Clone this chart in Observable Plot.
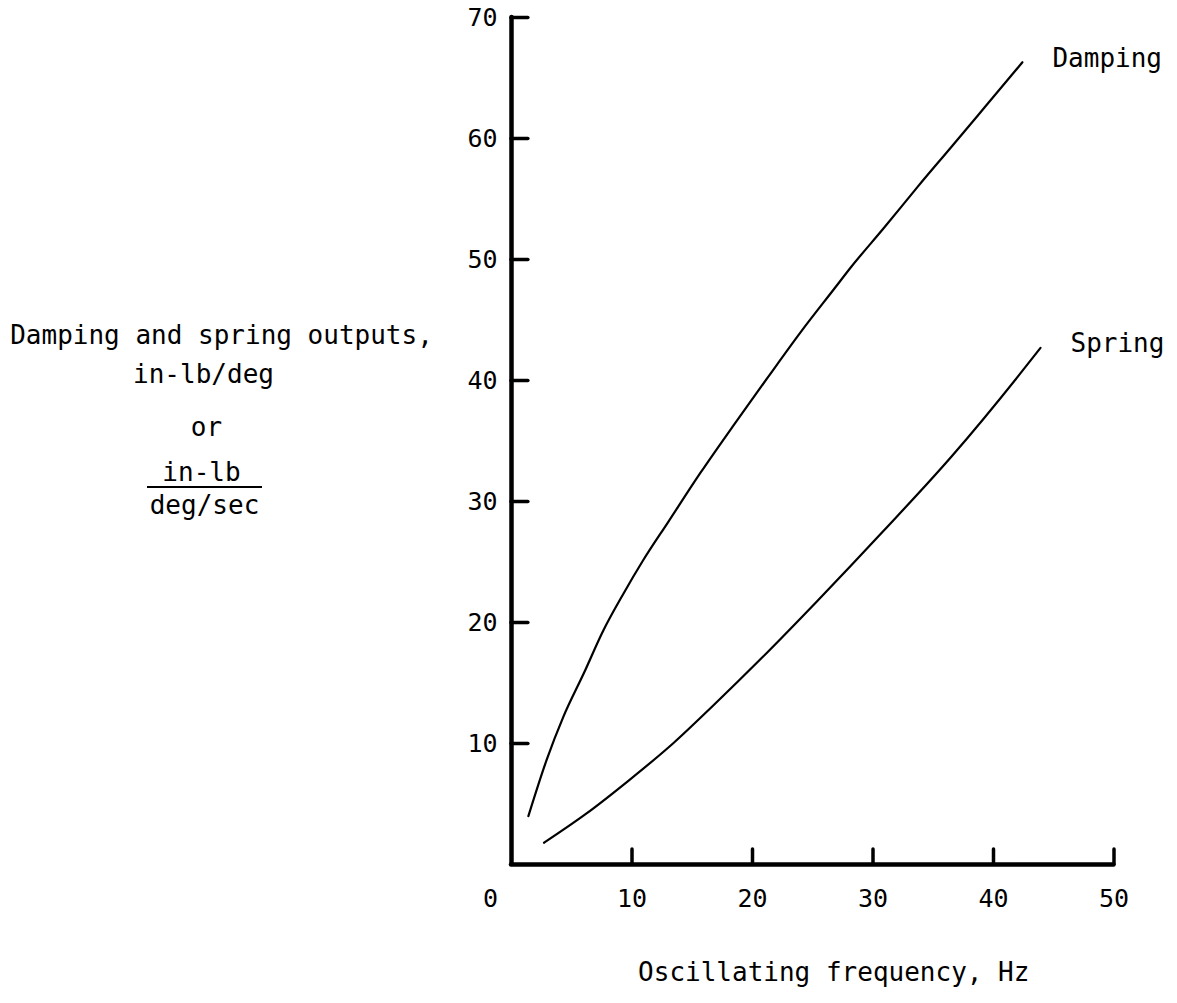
<!DOCTYPE html>
<html>
<head>
<meta charset="utf-8">
<script src="https://cdn.jsdelivr.net/npm/d3@7"></script>
<script src="https://cdn.jsdelivr.net/npm/@observablehq/plot@0.6"></script>
<style>
  html, body { margin: 0; padding: 0; background: #fff; }
</style>
</head>
<body>
<div id="chart"></div>
<script>
// ---- data ----
const dampingFreq = [1.4, 2.9, 4.3, 6.0, 7.6, 9.3, 10.9, 13.0, 15.7, 18.5, 21.3, 24.0, 26.8, 28.2, 30.9, 33.7, 36.5, 39.2, 42.4];
const dampingOut  = [4.0, 8.6, 12.2, 15.8, 19.3, 22.4, 25.1, 28.3, 32.4, 36.4, 40.3, 44.0, 47.6, 49.4, 52.6, 56.0, 59.3, 62.5, 66.3];
const springFreq  = [2.7, 6.2, 9.8, 13.4, 16.7, 20.8, 25.4, 30.9, 36.5, 42.0, 43.9];
const springOut   = [1.8, 4.2, 7.0, 10.0, 13.1, 17.1, 21.8, 27.6, 33.7, 40.3, 42.7];
const xTicks = [0, 10, 20, 30, 40, 50];
const yTicks = [10, 20, 30, 40, 50, 60, 70];
const seriesNames = ["Damping", "Spring"];
const xTitle = "Oscillating frequency, Hz";
const yTitleLines = ["Damping and spring outputs,", "in-lb/deg", "or", "in-lb", "deg/sec"];

const rows = [
  ...dampingFreq.map((f, i) => ({series: seriesNames[0], f, v: dampingOut[i]})),
  ...springFreq.map((f, i) => ({series: seriesNames[1], f, v: springOut[i]}))
];

const W = 1177, H = 1003;
const font = "'DejaVu Sans Mono', monospace";

const yTitleOffsets = [
  {dx: -290, dy: 326}, {dx: -308, dy: 365}, {dx: -305, dy: 418}, {dx: -310, dy: 463}, {dx: -307, dy: 496}
];

const plot = Plot.plot({
  width: W,
  height: H,
  marginLeft: 511,
  marginRight: 63.5,
  marginTop: 17,
  marginBottom: 139,
  x: {domain: [0, 50], axis: null},
  y: {domain: [0, 70], axis: null},
  style: {fontFamily: font, fontSize: "24px", color: "#000", background: "#fff", overflow: "visible"},
  marks: [
    // curves
    Plot.line(rows, {x: "f", y: "v", z: "series", stroke: "#000", strokeWidth: 2.2, curve: "monotone-x"}),
    // curve labels
    Plot.text(rows, Plot.selectLast({x: "f", y: "v", z: "series", text: "series",
      textAnchor: "start", dx: 30, dy: -4, fontSize: 26, fill: "#000"})),
    // axes lines
    Plot.ruleX([0], {y1: 0, y2: 70, stroke: "#000", strokeWidth: 4.5, strokeLinecap: "round"}),
    Plot.ruleY([0], {x1: 0, x2: 50, stroke: "#000", strokeWidth: 4.5, strokeLinecap: "round"}),
    // inward ticks
    Plot.ruleY(yTicks, {x1: 0, x2: 1.4, stroke: "#000", strokeWidth: 3.5, strokeLinecap: "round"}),
    Plot.ruleX(xTicks.filter(d => d > 0), {y1: 0, y2: 1.25, stroke: "#000", strokeWidth: 3.5, strokeLinecap: "round"}),
    // tick labels
    Plot.text(yTicks, {x: 0, y: d => d, text: d => String(d), textAnchor: "end", dx: -14, lineAnchor: "middle", fontSize: 25}),
    Plot.text(xTicks.filter(d => d > 0), {x: d => d, y: 0, text: d => String(d), dy: 34, lineAnchor: "middle", fontSize: 25}),
    Plot.text([xTicks[0]], {x: d => d, y: 0, text: d => String(d), dx: -21, dy: 34, lineAnchor: "middle", fontSize: 25}),
    // axis titles
    Plot.text([xTitle], {frameAnchor: "bottom", text: d => d, dx: 21, dy: 116, lineAnchor: "bottom", fontSize: 26}),
    ...yTitleLines.map((t, i) => Plot.text([t], {frameAnchor: "top-left", text: d => d,
      textAnchor: "middle", lineAnchor: "bottom", dx: yTitleOffsets[i].dx, dy: yTitleOffsets[i].dy, fontSize: 26}))
  ]
});

// fraction bar under "in-lb"
d3.select(plot).append("line")
  .attr("x1", 147).attr("x2", 262)
  .attr("y1", 487).attr("y2", 487)
  .attr("stroke", "#000").attr("stroke-width", 2);

document.getElementById("chart").appendChild(plot);
</script>
</body>
</html>
